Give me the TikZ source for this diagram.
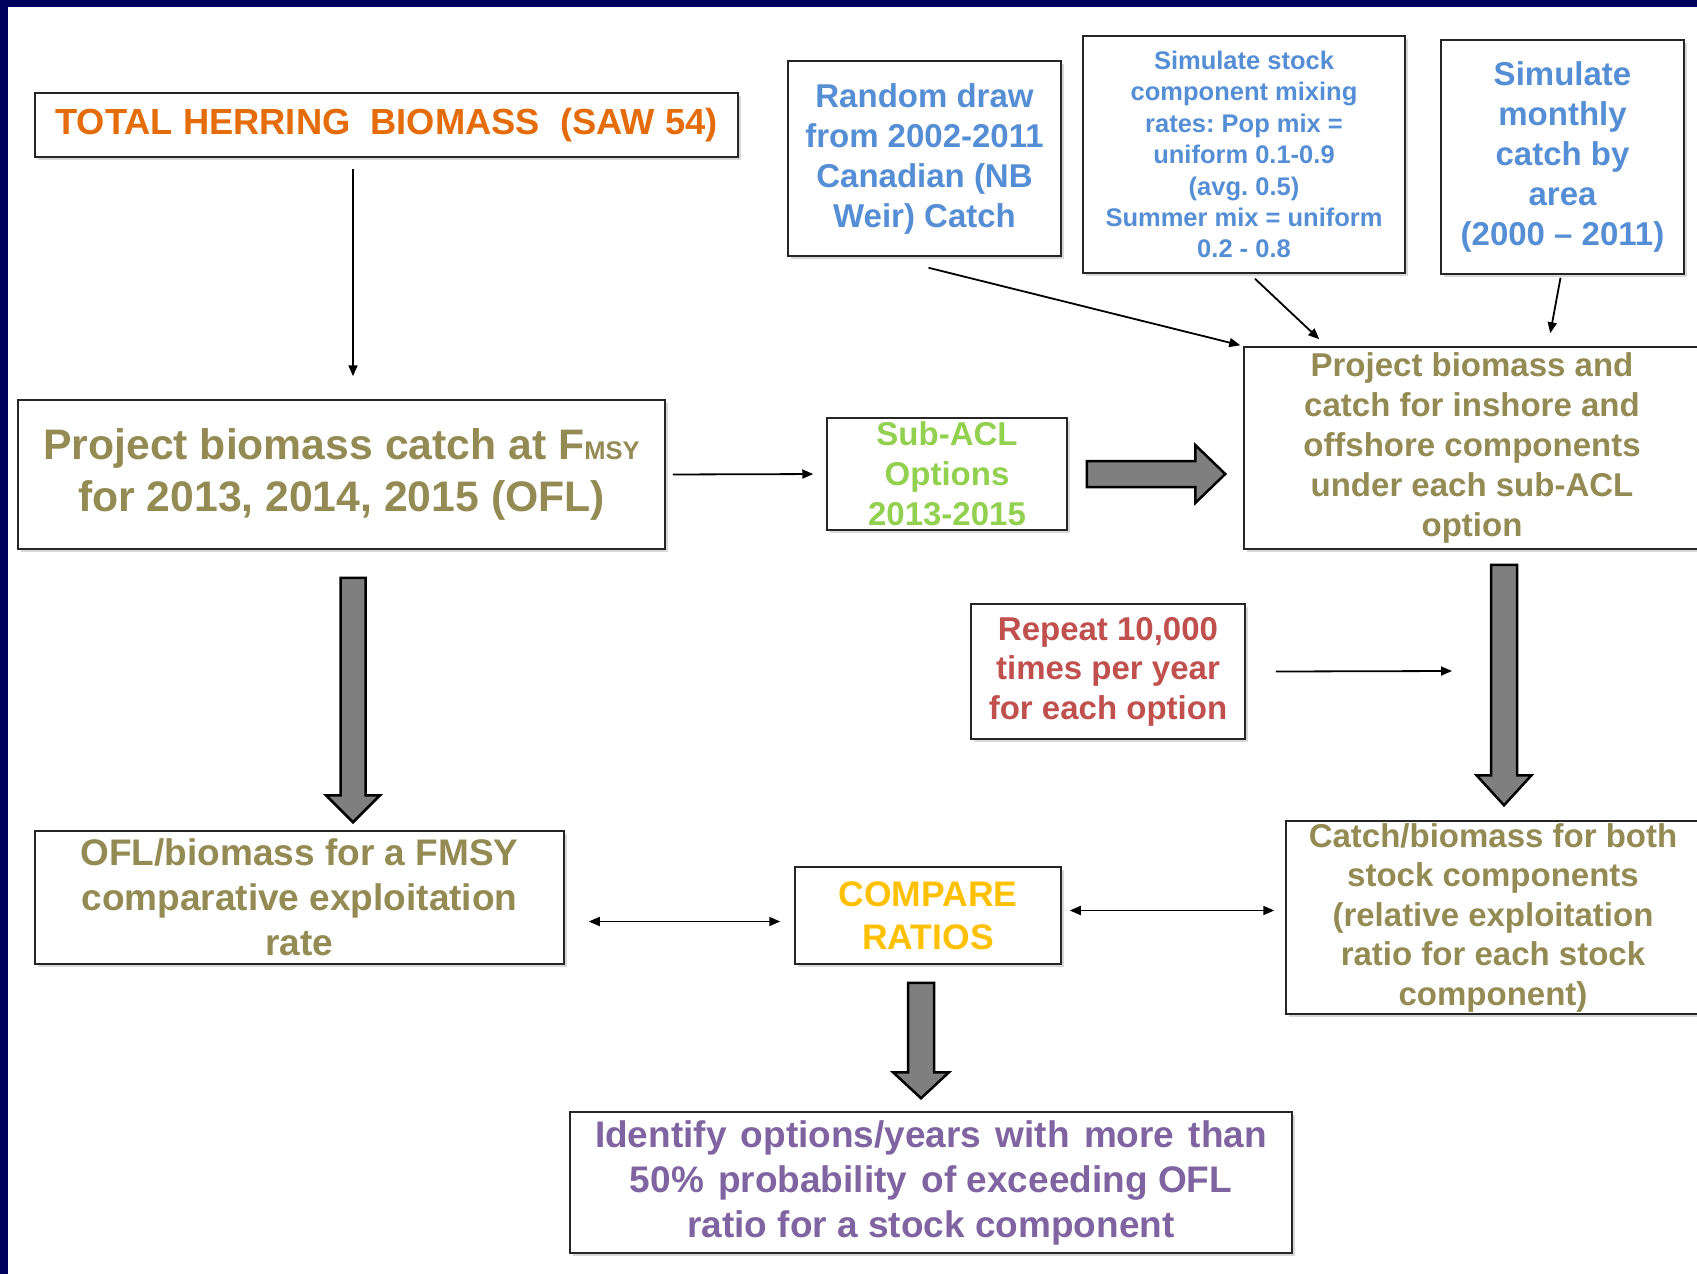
\documentclass[tikz,border=0pt]{standalone}
\usepackage{fontspec}
\setmainfont{Liberation Sans}
\frenchspacing
\usetikzlibrary{calc,arrows.meta,shadows}
\definecolor{navy}{HTML}{00005E}
\definecolor{torange}{HTML}{E46C0A}
\definecolor{olive}{HTML}{948A54}
\definecolor{lblue}{HTML}{558ED5}
\definecolor{lgreen}{HTML}{92D050}
\definecolor{dred}{HTML}{C0504D}
\definecolor{gold}{HTML}{FFC000}
\definecolor{purp}{HTML}{8064A2}
\definecolor{blockgray}{HTML}{7F7F7F}
\tikzset{
  box/.style={draw=black!85, line width=1.5pt, fill=white, inner sep=0pt, align=center,
    drop shadow={shadow xshift=3pt,shadow yshift=-3pt,opacity=0.3}},
  thinarrow/.style={draw=black, line width=1.8pt, -{Triangle[length=11pt,width=9pt]}},
  thinboth/.style={draw=black, line width=1.8pt, {Triangle[length=11pt,width=9pt]}-{Triangle[length=11pt,width=9pt]}},
  blockarrow/.style={draw=black, line width=2.5pt, fill=blockgray, line join=miter},
}
\newcommand\blockdown[5]{%
  \draw[blockarrow] let \p1=(#1), \p2=(#2) in
  (\x1-#3pt,\y1) -- (\x1+#3pt,\y1) -- (\x1+#3pt,\y2+#5pt) -- (\x1+#4pt,\y2+#5pt)
  -- (\x1,\y2) -- (\x1-#4pt,\y2+#5pt) -- (\x1-#3pt,\y2+#5pt) -- cycle;}
\newcommand\blockright[5]{%
  \draw[blockarrow] let \p1=(#1), \p2=(#2) in
  (\x1,\y1+#3pt) -- (\x1,\y1-#3pt) -- (\x2-#5pt,\y1-#3pt) -- (\x2-#5pt,\y1-#4pt)
  -- (\x2,\y1) -- (\x2-#5pt,\y1+#4pt) -- (\x2-#5pt,\y1+#3pt) -- cycle;}
\newcommand\wgap{\ \hspace{4pt}}
\begin{document}
\begin{tikzpicture}[x=1pt,y=-1pt]
\useasboundingbox (0,0) rectangle (1697,1274);
\clip (0,0) rectangle (1697,1274);
\fill[white] (0,0) rectangle (1697,1274);
\fill[navy] (0,0) rectangle (1697,7);
\fill[navy] (0,0) rectangle (8,1274);

% top-left
\node[box, minimum width=703pt, minimum height=64pt, text=torange,
  font={\fontsize{36.3}{40}\selectfont\bfseries}] (A) at (386.5,125)
  {TOTAL HERRING\ \ BIOMASS\ \ (SAW 54)};
\node[box, minimum width=647pt, minimum height=149pt, text=olive,
  font={\fontsize{42.7}{52}\selectfont\bfseries}] (B) at (341.5,474.5)
  {Project biomass catch at F{\fontsize{25.5}{25}\selectfont MSY}\\for 2013, 2014, 2015 (OFL)};

% top row right
\node[box, minimum width=273pt, minimum height=195pt, text=lblue,
  font={\fontsize{33}{40}\selectfont\bfseries}] (C) at (924.5,158.5)
  {Random draw\\from 2002-2011\\Canadian (NB\\Weir) Catch};
\node[box, minimum width=322pt, minimum height=237pt, text=lblue,
  font={\fontsize{25.5}{31.4}\selectfont\bfseries}] (D) at (1244,154.5)
  {Simulate stock\\component mixing\\rates: Pop mix =\\uniform 0.1-0.9\\(avg. 0.5)\\Summer mix = uniform\\0.2 - 0.8};
\node[box, minimum width=243pt, minimum height=234pt, text=lblue,
  font={\fontsize{33}{40}\selectfont\bfseries}] (E) at (1562.5,157)
  {Simulate\\monthly\\catch by\\area\\(2000 -- 2011)};

% middle row
\node[box, minimum width=240pt, minimum height=112pt, text=lgreen,
  font={\fontsize{33}{40}\selectfont\bfseries}] (F) at (947,474)
  {Sub-ACL\\Options\\2013-2015};
\node[box, minimum width=456pt, minimum height=202pt, text=olive,
  font={\fontsize{33}{39.8}\selectfont\bfseries}] (G) at (1472,448)
  {Project biomass and\\catch for inshore and\\offshore components\\under each sub-ACL\\option};
\node[box, minimum width=274pt, minimum height=135pt, text=dred,
  font={\fontsize{33}{39.5}\selectfont\bfseries}] (H) at (1108,671.5)
  {Repeat 10,000\\times per year\\for each option};

% lower row
\node[box, minimum width=529pt, minimum height=133pt, text=olive,
  font={\fontsize{37}{45}\selectfont\bfseries}] (J) at (299.5,897.5)
  {OFL/biomass for a FMSY\\comparative exploitation\\rate};
\node[box, minimum width=266pt, minimum height=97pt, text=gold,
  font={\fontsize{35.5}{43}\selectfont\bfseries}] (K) at (928,915.5)
  {COMPARE\\RATIOS};
\node[box, minimum width=414pt, minimum height=193pt, text=olive,
  font={\fontsize{33}{39.5}\selectfont\bfseries}] (I) at (1493,917.5)
  {Catch/biomass for both\\stock components\\(relative exploitation\\ratio for each stock\\component)};
\node[box, minimum width=722pt, minimum height=141pt, text=purp,
  font={\fontsize{37}{45}\selectfont\bfseries}] (L) at (931,1182.5)
  {Identify\wgap options/years\wgap with\wgap more\wgap than\\50\%\wgap probability\wgap of exceeding OFL\\ratio for a stock component};

\coordinate (hend) at (1452,671);

% thin connectors
\draw[thinarrow] ([xshift=-33.5pt,yshift=-11pt]A.south) -- ([xshift=11.5pt,yshift=23pt]B.north);
\draw[thinarrow, shorten <=7pt, shorten >=13pt] (B.east) -- (F.west);
\draw[thinarrow] ([xshift=4pt,yshift=-11pt]C.south) -- ([xshift=-3pt,yshift=1pt]G.north west);
\draw[thinarrow] ([xshift=11pt,yshift=-5pt]D.south) -- ([xshift=76pt,yshift=7pt]G.north west);
\draw[thinarrow] ([xshift=-2pt,yshift=-3pt]E.south) -- ([xshift=307pt,yshift=13pt]G.north west);
\draw[thinarrow] ([xshift=30pt]H.east) -- (hend);
\draw[thinboth] ([xshift=24pt,yshift=-24pt]J.east) -- ([xshift=-14pt,yshift=-6pt]K.west);
\draw[thinboth] ([xshift=8pt,yshift=5pt]K.east) -- ([xshift=-11pt,yshift=7pt]I.west);

% block arrows
\blockright{[xshift=19pt]F.east}{[xshift=-18pt]G.west}{13}{29}{30}
\blockdown{[xshift=11.5pt,yshift=-28pt]B.south}{[xshift=53.5pt,yshift=8pt]J.north}{12.5}{27}{27}
\blockdown{[xshift=32pt,yshift=-15pt]G.south}{[xshift=11pt,yshift=15pt]I.north}{13}{27.5}{30}
\blockdown{[xshift=-7pt,yshift=-18pt]K.south}{[xshift=-10pt,yshift=13pt]L.north}{13}{28}{26}
\end{tikzpicture}
\end{document}
